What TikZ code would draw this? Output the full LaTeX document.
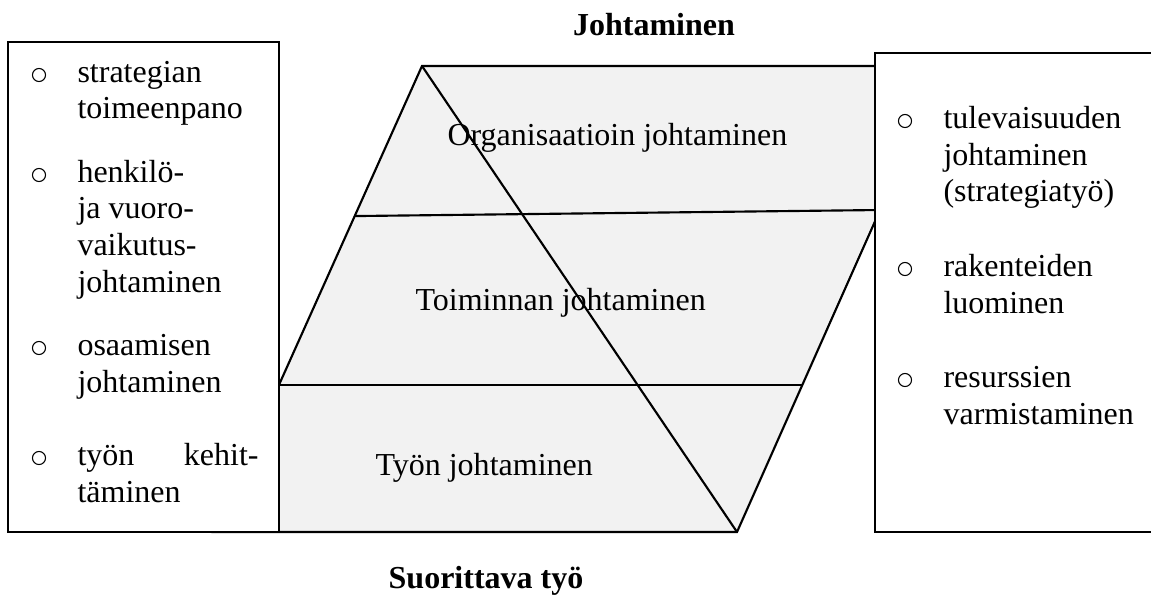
\documentclass[tikz,border=0pt]{standalone}
\usepackage{fontspec}
\setmainfont{Liberation Serif}
\usetikzlibrary{calc}

\begin{document}
\begin{tikzpicture}[
    x=0.375pt, y=-0.375pt,
    level/.style={draw, thick, fill=gray!10},
    sep/.style={thick},
    frame/.style={draw, thick, fill=white},
    txt/.style={anchor=base west, inner sep=0pt, font=\fontsize{12}{14}\selectfont},
    head/.style={anchor=base, inner sep=0pt, font=\fontsize{12}{14}\selectfont\bfseries},
    blt/.style={circle, draw, line width=0.4pt, inner sep=0pt, minimum size=4.9pt}
  ]
  \useasboundingbox (0,0) rectangle (1151,594);

  % slanted block behind the two boxes
  \coordinate (tl) at (422,66);
  \coordinate (tr) at (944,66);
  \coordinate (br) at (737,532);
  \coordinate (bl) at (213,532);
  \draw[level] (tl) -- (tr) -- (br) -- (bl) -- cycle;
  \draw[sep] ($(tl)!0.322!(bl)$) -- ($(tr)!0.309!(br)$);
  \draw[sep] ($(tl)!0.684!(bl)$) -- ($(tr)!0.684!(br)$);
  \draw[sep] (tl) -- (br);

  \node[txt] (org)  at (447,145) {Organisaatioin johtaminen};
  \node[txt] (toim) at (415,310) {Toiminnan johtaminen};
  \node[txt] (tyon) at (375,475) {Työn johtaminen};

  % side boxes
  \draw[frame] (8,42) rectangle (279,532);
  \draw[frame] (875,53) rectangle (1160,532);

  \node[head] (top) at (654,35)  {Johtaminen};
  \node[head] (bot) at (486,588) {Suorittava työ};

  % left list
  \foreach \y in {82,182,355,465}
    \node[blt] (lb-\y) at (39,\y-7) {};
  \foreach \y/\t in {82/strategian, 118/toimeenpano, 182/henkilö-, 218/ja vuoro-,
      255/vaikutus-, 292/johtaminen, 355/osaamisen, 392/johtaminen,
      465/{\makebox[67.9pt][s]{työn kehit-}}, 502/täminen}
    \node[txt] (l-\y) at (77,\y) {\t};

  % right list
  \foreach \y in {128,276,387}
    \node[blt] (rb-\y) at (905,\y-7) {};
  \foreach \y/\t in {128/tulevaisuuden, 165/johtaminen, 201/(strategiatyö),
      276/rakenteiden, 313/luominen, 387/resurssien, 424/varmistaminen}
    \node[txt] (r-\y) at (943,\y) {\t};
\end{tikzpicture}
\end{document}
